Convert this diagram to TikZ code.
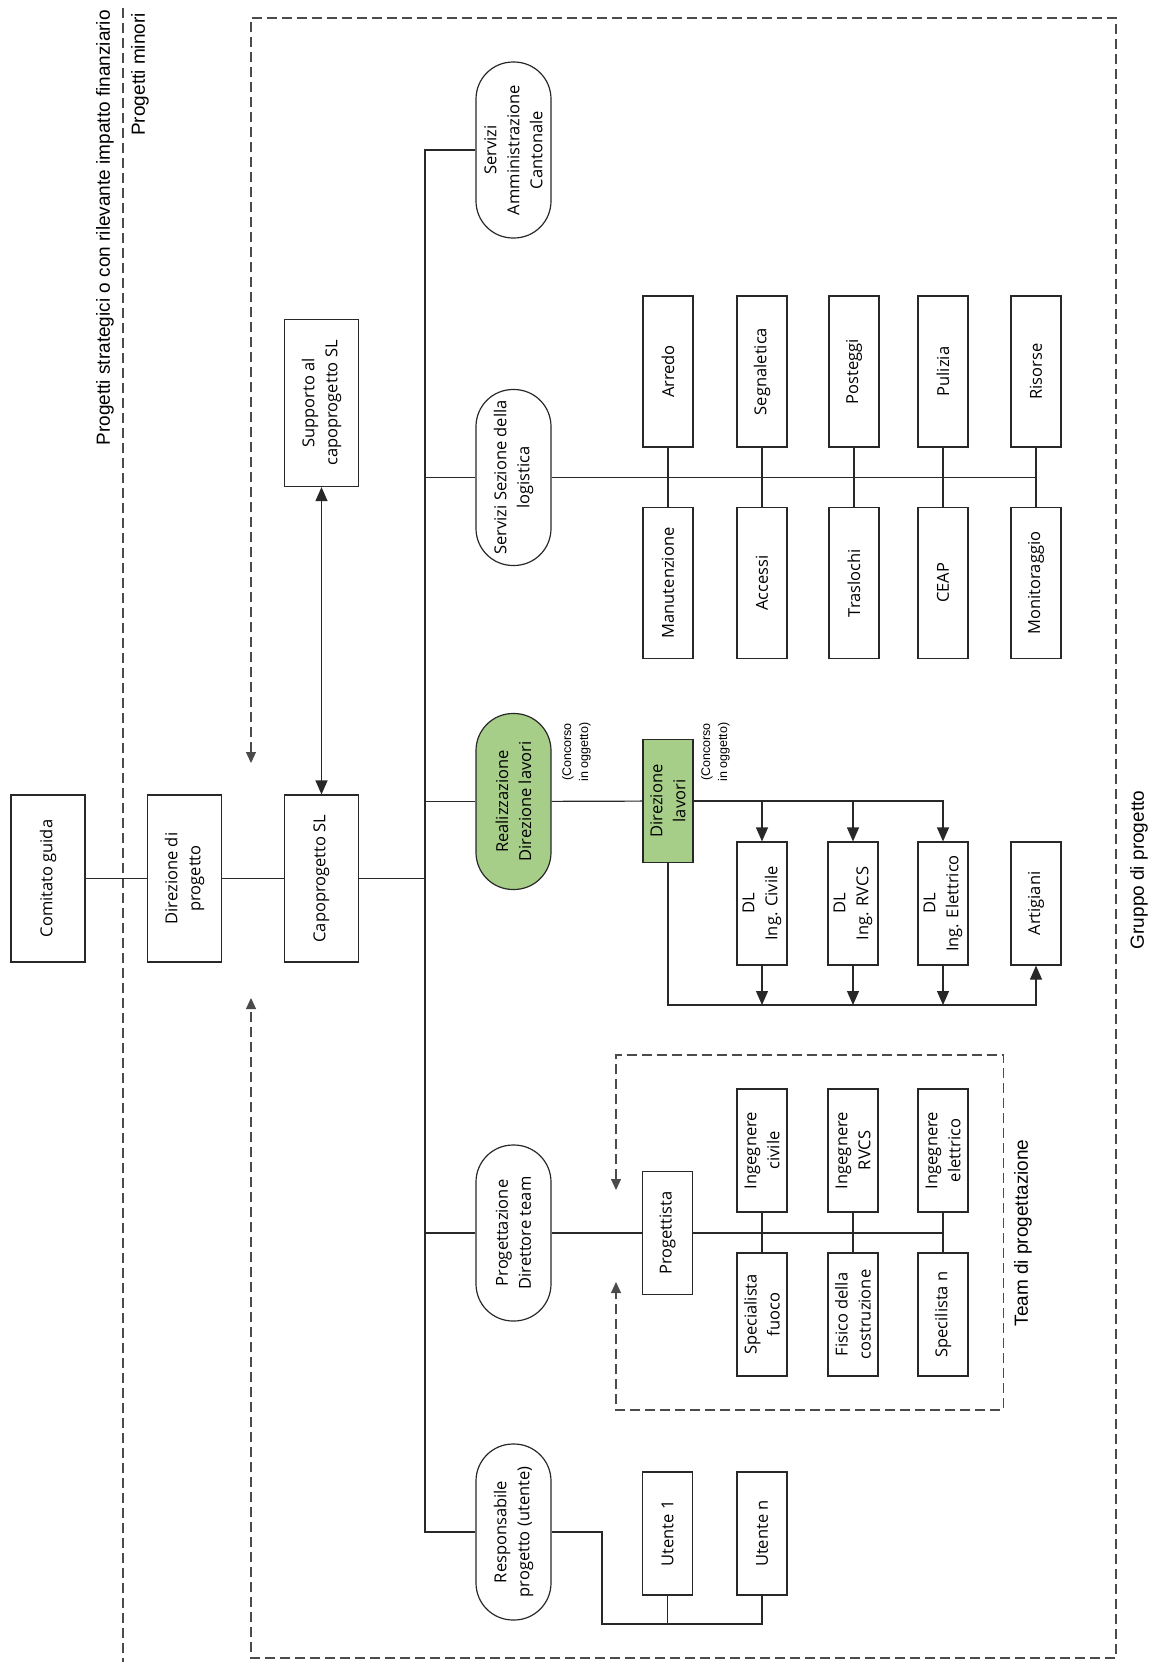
\documentclass[tikz,border=0pt]{standalone}
\usepackage{fontspec}
\setmainfont{Open Sans}
\newfontfamily\labelfont{Liberation Sans}
\usetikzlibrary{arrows.meta}
\definecolor{linegray}{RGB}{40,40,40}
\definecolor{dashgray}{RGB}{75,75,75}
\definecolor{dlgreen}{RGB}{166,206,137}

\begin{document}
\begin{tikzpicture}[x=1pt, y=-1pt,
    >={Triangle[length=14pt, width=12pt]},
    every node/.style={rotate=90, align=center, font=\fontsize{16.5}{23}\selectfont},
    bigbox/.style={draw=linegray, line width=1.2pt, minimum width=167pt, minimum height=74pt, inner sep=2pt},
    box/.style={draw=linegray, line width=1.2pt, minimum width=151pt, minimum height=50pt, inner sep=2pt},
    smallbox/.style={draw=linegray, line width=1.2pt, minimum width=123pt, minimum height=50pt, inner sep=2pt},
    pill/.style={draw=linegray, line width=1.2pt, rounded corners=37pt, minimum width=176pt, minimum height=75pt, inner sep=2pt},
    note/.style={font=\labelfont\fontsize{12.5}{17}\selectfont, inner sep=0pt},
    grouptext/.style={font=\labelfont\fontsize{19}{23}\selectfont, inner sep=0pt},
    conn/.style={draw=linegray, line width=1.2pt},
    frame/.style={draw=dashgray, line width=1.1pt, dash pattern=on 10pt off 5pt, >={Triangle[length=11pt, width=10pt]}},
]
    \useasboundingbox (0,0) rectangle (1156,1662);

    \node[grouptext, anchor=east] (strat) at (105,10) {Progetti strategici o con rilevante impatto finanziario};
    \node[grouptext, anchor=east] (minori) at (140,13) {Progetti minori};
    \node[grouptext] (gruppo) at (1139,870) {Gruppo di progetto};
    \node[grouptext] (team) at (1023,1233) {Team di progettazione};

    \node[bigbox] (cg) at (48,878.5) {Comitato guida};
    \node[bigbox] (dp) at (184.5,878.5) {Direzione di\\progetto};
    \node[bigbox] (cp) at (321.5,878.5) {Capoprogetto SL};
    \node[bigbox] (sup) at (321.5,403) {Supporto al\\capoprogetto SL};

    \node[pill] (sac) at (513.5,150) {Servizi\\Amministrazione\\Cantonale};
    \node[pill] (ssl) at (513.5,477.5) {Servizi Sezione della\\logistica};
    \node[pill, fill=dlgreen] (rdl) at (513.5,801.5) {Realizzazione\\Direzione lavori};
    \node[pill] (pdt) at (513.5,1233) {Progettazione\\Direttore team};
    \node[pill] (rpu) at (513.5,1532) {Responsabile\\progetto (utente)};

    \node[box] (arr) at (668,371.5) {Arredo};
    \node[box] (seg) at (762,371.5) {Segnaletica};
    \node[box] (pos) at (854,371.5) {Posteggi};
    \node[box] (pul) at (943,371.5) {Pulizia};
    \node[box] (ris) at (1036,371.5) {Risorse};
    \node[box] (man) at (668,583) {Manutenzione};
    \node[box] (acc) at (762,583) {Accessi};
    \node[box] (tra) at (854,583) {Traslochi};
    \node[box] (ceap) at (943,583) {CEAP};
    \node[box] (mon) at (1036,583) {Monitoraggio};

    \node[smallbox, fill=dlgreen] (dl) at (668,801) {Direzione\\lavori};
    \node[note] (ncr) at (576.5,752) {(Concorso\\in oggetto)};
    \node[note] (ncd) at (715.5,752) {(Concorso\\in oggetto)};
    \node[smallbox] (dlciv) at (762,903.5) {DL\\Ing. Civile};
    \node[smallbox] (dlrvcs) at (853,903.5) {DL\\Ing. RVCS};
    \node[smallbox] (dlele) at (943,903.5) {DL\\Ing. Elettrico};
    \node[smallbox] (art) at (1036,903.5) {Artigiani};

    \node[smallbox] (prog) at (667.5,1233) {Progettista};
    \node[smallbox] (ingciv) at (762,1150.5) {Ingegnere\\civile};
    \node[smallbox] (ingrvcs) at (853,1150.5) {Ingegnere\\RVCS};
    \node[smallbox] (ingele) at (943,1150.5) {Ingegnere\\elettrico};
    \node[smallbox] (spfuo) at (762,1314.5) {Specialista\\fuoco};
    \node[smallbox] (fisico) at (853,1314.5) {Fisico della\\costruzione};
    \node[smallbox] (spn) at (943,1314.5) {Specilista n};

    \node[smallbox] (ut1) at (667.5,1533.5) {Utente 1};
    \node[smallbox] (utn) at (762,1533.5) {Utente n};

    \coordinate (trunk) at (425,0);
    \coordinate (sepa) at (123,8);
    \coordinate (sepb) at (123,1662);
    \coordinate (gtop) at (251,763);
    \coordinate (gbot) at (251,998);
    \coordinate (ttop) at (616,1190);
    \coordinate (tbot) at (616,1282);
    \coordinate (dlbus) at (668,1005);
    \coordinate (ubus) at (602,1624);

    \draw[frame] (sepa) -- (sepb);
    \draw[frame, <->] (gtop) -- (251,18) -- (1116,18) -- (1116,1658) -- (251,1658) -- (gbot);
    \draw[frame, <->] (ttop) -- (616,1055) -- (1003.5,1055) -- (1003.5,1410) -- (616,1410) -- (tbot);

    \draw[conn] (cg) -- (dp);
    \draw[conn] (dp) -- (cp);
    \draw[conn, <->] (sup) -- (cp);
    \draw[conn] (cp) -- (cp -| trunk);
    \draw[conn] (sac) -- (sac -| trunk) -- (rpu -| trunk) -- (rpu);
    \draw[conn] (ssl) -- (ssl -| trunk);
    \draw[conn] (rdl) -- (rdl -| trunk);
    \draw[conn] (pdt) -- (pdt -| trunk);

    \draw[conn] (ssl) -- (ssl -| ris);
    \draw[conn] (arr) -- (man);
    \draw[conn] (seg) -- (acc);
    \draw[conn] (pos) -- (tra);
    \draw[conn] (pul) -- (ceap);
    \draw[conn] (ris) -- (mon);

    \draw[conn] (rdl) -- (dl);
    \draw[conn, ->] (dl) -| (dlciv);
    \draw[conn, ->] (dl) -| (dlrvcs);
    \draw[conn, ->] (dl) -| (dlele);
    \draw[conn, ->] (dl) -- (dlbus) -| (art);
    \draw[conn, ->] (dlciv) -- (dlciv |- dlbus);
    \draw[conn, ->] (dlrvcs) -- (dlrvcs |- dlbus);
    \draw[conn, ->] (dlele) -- (dlele |- dlbus);

    \draw[conn] (pdt) -- (prog);
    \draw[conn] (prog) -- (prog -| ingele);
    \draw[conn] (ingciv) -- (spfuo);
    \draw[conn] (ingrvcs) -- (fisico);
    \draw[conn] (ingele) -- (spn);

    \draw[conn] (rpu) -| (ubus) -| (utn);
    \draw[conn] (ut1) -- (ut1 |- ubus);
\end{tikzpicture}
\end{document}
